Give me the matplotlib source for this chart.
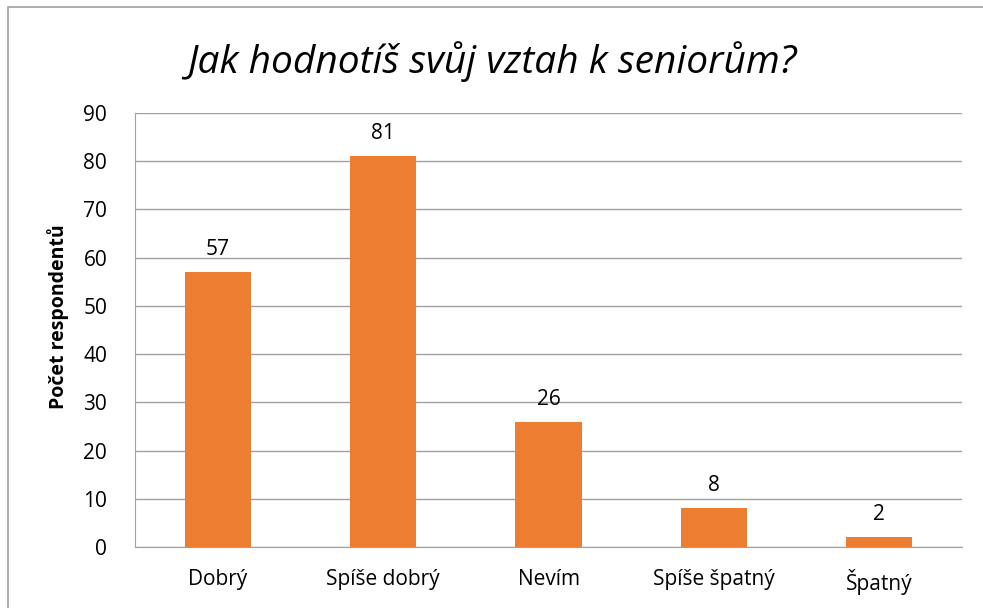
import matplotlib.pyplot as plt
from matplotlib.patches import Rectangle

kategorie = ['Dobrý', 'Spíše dobrý', 'Nevím', 'Spíše špatný', 'Špatný']
pocty = [57, 81, 26, 8, 2]
y_ticks = list(range(0, 91, 10))

plt.rcParams['font.family'] = ['Open Sans', 'DejaVu Sans']

W, H = 983, 608
fig = plt.figure(figsize=(W / 100, H / 100), dpi=100)

# ramecek grafu
fig.patches.append(Rectangle((8 / W, -0.01), 1.0, (H - 7) / H + 0.01, transform=fig.transFigure,
                             fill=False, edgecolor='#A0A0A0', linewidth=1.2))

ax = fig.add_axes([135 / W, (H - 547) / H, (962 - 135) / W, (547 - 113) / H])
x = range(len(kategorie))
bars = ax.bar(x, pocty, width=0.4, color='#ED7D31', zorder=3)
for b, v in zip(bars, pocty):
    ax.text(b.get_x() + b.get_width() / 2, v + 2.5, str(v), ha='center', va='bottom', fontsize=15)

ax.set_xlim(-0.5, len(kategorie) - 0.5)
ax.set_ylim(0, 90)
ax.set_yticks(y_ticks)
ax.set_xticks(list(x))
ax.set_xticklabels(kategorie)
ax.tick_params(axis='both', length=0, labelsize=15)
ax.tick_params(axis='y', pad=20)
ax.tick_params(axis='x', pad=16)
ax.yaxis.grid(True, color='#A0A0A0', linewidth=1, zorder=0)
for s in ['top', 'right']:
    ax.spines[s].set_visible(False)
for s in ['left', 'bottom']:
    ax.spines[s].set_color('#A0A0A0')
ax.set_ylabel('Počet respondentů', fontsize=14, fontweight='bold', labelpad=10)
ax.yaxis.label.set_y(0.53)

fig.text(0.5, (H - 62) / H, 'Jak hodnotíš svůj vztah k seniorům?', ha='center', va='center',
         fontsize=28, style='italic')

plt.savefig('out.png', dpi=100)
